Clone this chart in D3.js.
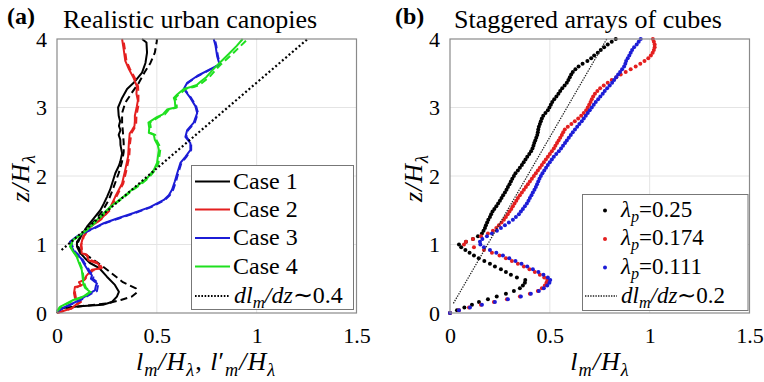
<!DOCTYPE html>
<html>
<head>
<meta charset="utf-8">
<script src="https://cdn.jsdelivr.net/npm/d3@7"></script>
<style>
  body { margin: 0; background: #fff; }
  svg { display: block; }
</style>
</head>
<body>
<svg id="chart" width="764" height="382"></svg>
<script>
// ---------- axis ticks ----------
const xTickValues = [0, 0.5, 1, 1.5];
const zTickValues = [0, 1, 2, 3, 4];
const xGridValues = [0.5, 1];
const zGridValues = [1, 2, 3];

// ---------- panel (a): realistic urban canopies, [l, z/H] pairs ----------
const case1Solid = [[0,0],[0.015,0.07],[0.115,0.10],[0.23,0.12],[0.275,0.16],[0.30,0.24],[0.31,0.31],[0.29,0.41],[0.25,0.53],[0.21,0.66],[0.165,0.73],[0.14,0.8],[0.115,0.88],[0.1,0.97],[0.1,1.04],[0.12,1.12],[0.15,1.26],[0.184,1.38],[0.217,1.5],[0.235,1.6],[0.251,1.7],[0.266,1.8],[0.276,1.89],[0.292,2.04],[0.31,2.15],[0.317,2.21],[0.326,2.33],[0.318,2.45],[0.317,2.53],[0.309,2.6],[0.318,2.67],[0.31,2.73],[0.316,2.8],[0.309,2.88],[0.306,3.0],[0.326,3.14],[0.351,3.27],[0.384,3.36],[0.426,3.51],[0.443,3.65],[0.451,3.8],[0.448,3.95],[0.426,4.0]];
const case1Dashed = [[0,0],[0.02,0.06],[0.12,0.1],[0.25,0.14],[0.32,0.19],[0.375,0.24],[0.40,0.3],[0.395,0.36],[0.33,0.45],[0.265,0.6],[0.22,0.7],[0.17,0.8],[0.12,0.9],[0.1,1.0],[0.12,1.12],[0.159,1.26],[0.192,1.36],[0.226,1.48],[0.259,1.65],[0.284,1.84],[0.309,2.04],[0.325,2.2],[0.334,2.35],[0.334,2.48],[0.331,2.61],[0.326,2.78],[0.326,2.92],[0.342,3.07],[0.376,3.22],[0.41,3.36],[0.438,3.51],[0.468,3.65],[0.49,3.8],[0.50,3.97],[0.5,4.0]];
const case2Solid = [[0,0],[0.074,0.07],[0.115,0.17],[0.09,0.22],[0.085,0.29],[0.09,0.38],[0.12,0.4],[0.11,0.45],[0.135,0.48],[0.149,0.55],[0.174,0.63],[0.215,0.65],[0.207,0.72],[0.157,0.77],[0.149,0.85],[0.124,0.87],[0.12,0.99],[0.13,1.11],[0.167,1.26],[0.217,1.36],[0.26,1.5],[0.292,1.7],[0.326,1.89],[0.342,2.09],[0.356,2.28],[0.36,2.48],[0.364,2.62],[0.376,2.67],[0.388,2.73],[0.39,2.8],[0.39,2.88],[0.395,2.95],[0.40,3.02],[0.405,3.1],[0.398,3.2],[0.40,3.31],[0.384,3.43],[0.36,3.56],[0.342,3.68],[0.334,3.85],[0.326,4.0]];
const case2Dashed = [[0,0],[0.07,0.06],[0.12,0.16],[0.095,0.22],[0.09,0.3],[0.095,0.37],[0.125,0.41],[0.115,0.45],[0.14,0.49],[0.155,0.56],[0.18,0.62],[0.225,0.66],[0.21,0.73],[0.16,0.78],[0.152,0.84],[0.127,0.88],[0.122,1.0],[0.135,1.12],[0.172,1.27],[0.222,1.37],[0.265,1.5],[0.298,1.7],[0.332,1.89],[0.348,2.09],[0.362,2.28],[0.366,2.48],[0.372,2.62],[0.384,2.68],[0.396,2.74],[0.398,2.88],[0.407,3.02],[0.408,3.17],[0.406,3.31],[0.39,3.43],[0.366,3.56],[0.348,3.68],[0.34,3.85],[0.332,4.0]];
const case3Solid = [[0,0.03],[0.04,0.09],[0.115,0.19],[0.165,0.29],[0.19,0.33],[0.195,0.4],[0.2,0.43],[0.17,0.5],[0.175,0.55],[0.16,0.6],[0.15,0.65],[0.135,0.72],[0.12,0.8],[0.085,0.9],[0.074,0.97],[0.065,1.04],[0.1,1.12],[0.14,1.18],[0.184,1.24],[0.234,1.31],[0.301,1.38],[0.384,1.46],[0.468,1.55],[0.535,1.65],[0.56,1.72],[0.576,1.8],[0.59,1.92],[0.602,2.04],[0.618,2.19],[0.643,2.28],[0.668,2.38],[0.668,2.48],[0.643,2.57],[0.652,2.67],[0.685,2.78],[0.702,2.92],[0.693,3.02],[0.668,3.14],[0.635,3.27],[0.652,3.36],[0.702,3.46],[0.768,3.56],[0.814,3.63],[0.802,3.75],[0.794,3.9],[0.785,4.0]];
const case3Dashed = [[0,0.02],[0.045,0.09],[0.12,0.19],[0.17,0.28],[0.2,0.32],[0.205,0.4],[0.205,0.44],[0.18,0.5],[0.185,0.55],[0.165,0.6],[0.155,0.66],[0.14,0.72],[0.125,0.8],[0.09,0.9],[0.078,0.97],[0.07,1.04],[0.105,1.12],[0.145,1.18],[0.19,1.24],[0.24,1.31],[0.31,1.38],[0.392,1.46],[0.475,1.55],[0.54,1.65],[0.565,1.72],[0.582,1.8],[0.596,1.92],[0.607,2.04],[0.623,2.19],[0.648,2.28],[0.672,2.38],[0.672,2.48],[0.648,2.57],[0.657,2.67],[0.69,2.78],[0.706,2.92],[0.697,3.02],[0.672,3.14],[0.638,3.27],[0.655,3.36],[0.706,3.46],[0.772,3.56],[0.817,3.63],[0.806,3.75],[0.798,3.9],[0.79,4.0]];
const case4Solid = [[0,0.03],[0.015,0.09],[0.082,0.19],[0.132,0.24],[0.165,0.31],[0.14,0.37],[0.132,0.43],[0.128,0.53],[0.124,0.63],[0.11,0.73],[0.099,0.82],[0.08,0.9],[0.065,0.97],[0.082,1.07],[0.12,1.15],[0.167,1.26],[0.217,1.41],[0.267,1.55],[0.334,1.70],[0.375,1.8],[0.418,1.89],[0.455,1.98],[0.485,2.09],[0.501,2.19],[0.51,2.38],[0.505,2.45],[0.49,2.53],[0.485,2.6],[0.46,2.63],[0.462,2.7],[0.458,2.78],[0.50,2.86],[0.53,2.9],[0.551,2.97],[0.593,3.0],[0.59,3.1],[0.585,3.14],[0.602,3.19],[0.635,3.27],[0.67,3.3],[0.70,3.33],[0.72,3.38],[0.75,3.45],[0.78,3.55],[0.81,3.64],[0.86,3.78],[0.90,3.9],[0.93,4.0]];
const case4Dashed = [[0,0.02],[0.02,0.09],[0.088,0.19],[0.138,0.24],[0.17,0.31],[0.145,0.37],[0.137,0.43],[0.132,0.53],[0.128,0.63],[0.114,0.73],[0.102,0.82],[0.083,0.9],[0.068,0.97],[0.085,1.07],[0.123,1.15],[0.17,1.26],[0.222,1.41],[0.272,1.55],[0.34,1.70],[0.382,1.8],[0.425,1.89],[0.462,1.98],[0.492,2.09],[0.508,2.19],[0.517,2.38],[0.512,2.45],[0.497,2.53],[0.492,2.6],[0.468,2.63],[0.47,2.7],[0.466,2.78],[0.508,2.86],[0.54,2.9],[0.56,2.97],[0.6,3.0],[0.598,3.1],[0.593,3.14],[0.61,3.19],[0.645,3.27],[0.685,3.3],[0.715,3.33],[0.735,3.38],[0.765,3.45],[0.795,3.55],[0.825,3.64],[0.878,3.78],[0.92,3.9],[0.955,4.0]];
const slopeA = [[0.023,0.92],[1.255,4.0]];   // dl_m/dz ~ 0.4

// ---------- panel (b): staggered arrays of cubes ----------
const heightsB = [
  0,0.04,0.08,0.12,0.16,0.2,0.24,0.28,0.32,0.36,
  0.4,0.44,0.48,0.52,0.56,0.6,0.64,0.68,0.72,0.76,
  0.8,0.84,0.88,0.92,0.96,1,1.04,1.08,1.12,1.16,
  1.2,1.24,1.28,1.32,1.36,1.4,1.44,1.48,1.52,1.56,
  1.6,1.64,1.68,1.72,1.76,1.8,1.84,1.88,1.92,1.96,
  2,2.04,2.08,2.12,2.16,2.2,2.24,2.28,2.32,2.36,
  2.4,2.44,2.48,2.52,2.56,2.6,2.64,2.68,2.72,2.76,
  2.8,2.84,2.88,2.92,2.96,3,3.04,3.08,3.12,3.16,
  3.2,3.24,3.28,3.32,3.36,3.4,3.44,3.48,3.52,3.56,
  3.6,3.64,3.68,3.72,3.76,3.8,3.84,3.88,3.92,3.96,
  4
];
const lp025 = [
  0,0.035,0.072,0.11,0.145,0.19,0.234,0.28,0.32,0.35,
  0.365,0.375,0.377,0.335,0.305,0.28,0.255,0.225,0.2,0.172,
  0.144,0.12,0.098,0.077,0.056,0.045,0.08,0.115,0.14,0.16,
  0.168,0.175,0.18,0.186,0.192,0.2,0.206,0.213,0.222,0.232,
  0.241,0.25,0.258,0.266,0.275,0.283,0.29,0.298,0.305,0.312,
  0.32,0.328,0.34,0.35,0.36,0.369,0.378,0.387,0.397,0.406,
  0.413,0.418,0.422,0.427,0.432,0.437,0.44,0.442,0.445,0.45,
  0.455,0.46,0.467,0.478,0.49,0.498,0.505,0.512,0.522,0.533,
  0.543,0.552,0.562,0.574,0.585,0.593,0.6,0.607,0.615,0.628,
  0.644,0.664,0.688,0.707,0.722,0.74,0.755,0.772,0.79,0.81,
  0.83
];
const lp0174 = [
  0,0.045,0.095,0.155,0.22,0.285,0.35,0.4,0.44,0.46,
  0.475,0.483,0.487,0.472,0.45,0.425,0.398,0.37,0.34,0.31,
  0.28,0.248,0.21,0.17,0.12,0.07,0.08,0.115,0.155,0.19,
  0.215,0.232,0.245,0.258,0.27,0.28,0.289,0.298,0.307,0.315,
  0.323,0.332,0.34,0.35,0.36,0.37,0.38,0.39,0.4,0.41,
  0.42,0.43,0.44,0.45,0.46,0.47,0.48,0.49,0.5,0.51,
  0.52,0.528,0.536,0.544,0.552,0.56,0.567,0.575,0.59,0.608,
  0.625,0.642,0.657,0.67,0.682,0.69,0.697,0.704,0.71,0.717,
  0.726,0.738,0.752,0.77,0.79,0.81,0.833,0.855,0.88,0.905,
  0.93,0.953,0.974,0.993,1.006,1.015,1.021,1.025,1.025,1.021,
  1.016
];
const lp0111 = [
  0,0.045,0.1,0.16,0.225,0.29,0.355,0.405,0.445,0.47,
  0.487,0.498,0.502,0.49,0.468,0.443,0.415,0.387,0.358,0.328,
  0.297,0.265,0.232,0.2,0.17,0.152,0.15,0.162,0.185,0.21,
  0.235,0.255,0.275,0.295,0.315,0.33,0.345,0.355,0.365,0.375,
  0.385,0.393,0.4,0.408,0.415,0.423,0.43,0.436,0.442,0.448,
  0.455,0.463,0.472,0.481,0.49,0.5,0.51,0.52,0.532,0.545,
  0.556,0.566,0.576,0.585,0.595,0.605,0.615,0.626,0.637,0.648,
  0.66,0.67,0.68,0.69,0.7,0.71,0.72,0.73,0.742,0.753,
  0.765,0.775,0.787,0.8,0.812,0.822,0.832,0.842,0.852,0.862,
  0.872,0.878,0.882,0.89,0.898,0.905,0.912,0.922,0.935,0.945,
  0.955
];
const slopeB = [[0.017,0.14],[0.785,4.0]];   // dl_m/dz ~ 0.2

const caseNames = ["Case 1", "Case 2", "Case 3", "Case 4"];
const lambdaNames = ["0.25", "0.174", "0.111"];

// ---------- drawing ----------
const SERIF = '"Liberation Serif"';
const COLORS = { black: "#000000", red: "#e41f1f", blue: "#1c1cd6", green: "#1fe01f" };
const svg = d3.select("#chart");

// text helper that always carries the serif face
function txt(parent) {
  return parent.append("text").style("font-family", SERIF).attr("fill", "#000");
}

// rich math-like text: parts of {t, i (italic), sub}
function richText(sel, parts, size) {
  let shift = 0;
  parts.forEach(p => {
    const target = p.sub ? size * 0.22 : 0;
    const ts = sel.append("tspan").text(p.t).attr("dy", target - shift);
    shift = target;
    if (p.sub) ts.attr("font-size", size * 0.7);
    if (p.i) ts.attr("font-style", "italic");
  });
}

function makePanel(left, right) {
  const x = d3.scaleLinear().domain([0, 1.5]).range([left, right]);
  const y = d3.scaleLinear().domain([0, 4]).range([313, 39]);
  const g = svg.append("g");

  // grid
  g.selectAll(".gx").data(xGridValues).join("line")
    .attr("x1", d => x(d)).attr("x2", d => x(d))
    .attr("y1", y(0)).attr("y2", y(4))
    .attr("stroke", "#e4e4e4").attr("stroke-width", 1);
  g.selectAll(".gy").data(zGridValues).join("line")
    .attr("x1", x(0)).attr("x2", x(1.5))
    .attr("y1", d => y(d)).attr("y2", d => y(d))
    .attr("stroke", "#e4e4e4").attr("stroke-width", 1);

  // tick labels from the library's axes
  const ax = g.append("g").attr("transform", `translate(0,${y(0)})`)
    .call(d3.axisBottom(x).tickValues(xTickValues).tickFormat(d => String(d)).tickSize(0).tickPadding(14));
  const ay = g.append("g").attr("transform", `translate(${x(0)},0)`)
    .call(d3.axisLeft(y).tickValues(zTickValues).tickFormat(d => String(d)).tickSize(0).tickPadding(10));
  [ax, ay].forEach(a => {
    a.attr("font-family", null).attr("font-size", null);
    a.select(".domain").remove();
    a.selectAll("text").attr("font-size", 22).attr("fill", "#000")
      .style("font-family", SERIF);
  });

  return { g, x, y };
}

function drawFrame(p) {
  p.g.append("rect")
    .attr("x", p.x(0)).attr("y", p.y(4))
    .attr("width", p.x(1.5) - p.x(0)).attr("height", p.y(0) - p.y(4))
    .attr("fill", "none").attr("stroke", "#8a8a8a").attr("stroke-width", 1.2);
}

// ----- panel (a)
const pa = makePanel(57, 356.5);
const lineA = d3.line().x(d => pa.x(d[0])).y(d => pa.y(d[1]));
const curvesA = [
  { d: case1Solid, c: COLORS.black, dash: null },
  { d: case1Dashed, c: COLORS.black, dash: "7 4" },
  { d: case2Solid, c: COLORS.red, dash: null },
  { d: case2Dashed, c: COLORS.red, dash: "7 4" },
  { d: case3Solid, c: COLORS.blue, dash: null },
  { d: case3Dashed, c: COLORS.blue, dash: "7 4" },
  { d: case4Solid, c: COLORS.green, dash: null },
  { d: case4Dashed, c: COLORS.green, dash: "7 4" }
];
pa.g.selectAll(".curve").data(curvesA).join("path")
  .attr("d", d => lineA(d.d)).attr("fill", "none")
  .attr("stroke", d => d.c).attr("stroke-width", 2)
  .attr("stroke-dasharray", d => d.dash)
  .attr("stroke-linejoin", "round");
pa.g.append("path").attr("d", lineA(slopeA)).attr("fill", "none")
  .attr("stroke", "#000").attr("stroke-width", 2.2).attr("stroke-dasharray", "2 2.4");
drawFrame(pa);

// legend (a)
const legA = svg.append("g");
legA.append("rect").attr("x", 191.5).attr("y", 165.5).attr("width", 162).attr("height", 144)
  .attr("fill", "#fff").attr("stroke", "#777").attr("stroke-width", 1);
const legAColors = [COLORS.black, COLORS.red, COLORS.blue, COLORS.green];
const legARows = [181.5, 209.5, 238, 266.5];
caseNames.forEach((name, i) => {
  legA.append("line").attr("x1", 195).attr("x2", 230).attr("y1", legARows[i]).attr("y2", legARows[i])
    .attr("stroke", legAColors[i]).attr("stroke-width", 2);
  txt(legA).attr("x", 233).attr("y", legARows[i] + 7).attr("font-size", 24).text(name);
});
legA.append("line").attr("x1", 195).attr("x2", 230).attr("y1", 296).attr("y2", 296)
  .attr("stroke", "#000").attr("stroke-width", 2).attr("stroke-dasharray", "1.6 1.6");
richText(txt(legA).attr("x", 234).attr("y", 303).attr("font-size", 24), [
  { t: "dl", i: true }, { t: "m", i: true, sub: true }, { t: "/dz", i: true }, { t: "∼0.4" }
], 24);

// ----- panel (b)
const pb = makePanel(450, 749.5);
const seriesB = [
  { v: lp025, c: COLORS.black },
  { v: lp0174, c: COLORS.red },
  { v: lp0111, c: COLORS.blue }
];
seriesB.forEach(s => {
  pb.g.append("g").selectAll("circle")
    .data(heightsB.map((z, i) => [s.v[i], z]))
    .join("circle")
    .attr("cx", d => pb.x(d[0])).attr("cy", d => pb.y(d[1]))
    .attr("r", 2).attr("fill", s.c);
});
const lineB = d3.line().x(d => pb.x(d[0])).y(d => pb.y(d[1]));
pb.g.append("path").attr("d", lineB(slopeB)).attr("fill", "none")
  .attr("stroke", "#222").attr("stroke-width", 1.3).attr("stroke-dasharray", "1.4 1.2");
drawFrame(pb);

// legend (b)
const legB = svg.append("g");
legB.append("rect").attr("x", 582.5).attr("y", 194.5).attr("width", 165.5).attr("height", 116)
  .attr("fill", "#fff").attr("stroke", "#777").attr("stroke-width", 1);
const legBRows = [210.5, 239, 267.5];
lambdaNames.forEach((val, i) => {
  legB.append("circle").attr("cx", 605).attr("cy", legBRows[i]).attr("r", 2).attr("fill", seriesB[i].c);
  richText(txt(legB).attr("x", 621).attr("y", legBRows[i] + 6).attr("font-size", 23), [
    { t: "λ", i: true }, { t: "p", i: true, sub: true }, { t: "=" + val }
  ], 23);
});
legB.append("line").attr("x1", 585).attr("x2", 617).attr("y1", 296).attr("y2", 296)
  .attr("stroke", "#222").attr("stroke-width", 1.3).attr("stroke-dasharray", "1.4 1.2");
richText(txt(legB).attr("x", 621).attr("y", 303).attr("font-size", 23), [
  { t: "dl", i: true }, { t: "m", i: true, sub: true }, { t: "/dz", i: true }, { t: "∼0.2" }
], 23);

// ---------- titles and axis labels ----------
txt(svg).attr("x", 7).attr("y", 24).attr("font-size", 24).attr("font-weight", "bold").text("(a)");
txt(svg).attr("x", 63).attr("y", 28).attr("font-size", 26).text("Realistic urban canopies");
txt(svg).attr("x", 395).attr("y", 24).attr("font-size", 24).attr("font-weight", "bold").text("(b)");
txt(svg).attr("x", 454).attr("y", 28).attr("font-size", 26).text("Staggered arrays of cubes");

function zLabel(xPos) {
  const t = txt(svg).attr("transform", `translate(${xPos},178) rotate(-90)`)
    .attr("text-anchor", "middle").attr("font-size", 26).attr("letter-spacing", 1);
  richText(t, [{ t: "z/H", i: true }, { t: "λ", i: true, sub: true }], 26);
}
zLabel(29);
zLabel(422);

const xla = txt(svg).attr("x", 206).attr("y", 370).attr("text-anchor", "middle")
  .attr("font-size", 26).attr("letter-spacing", 1);
richText(xla, [
  { t: "l", i: true }, { t: "m", i: true, sub: true }, { t: "/H", i: true }, { t: "λ", i: true, sub: true },
  { t: ", " }, { t: "l", i: true }, { t: "′" }, { t: "m", i: true, sub: true }, { t: "/H", i: true },
  { t: "λ", i: true, sub: true }
], 26);
const xlb = txt(svg).attr("x", 600).attr("y", 370).attr("text-anchor", "middle")
  .attr("font-size", 26).attr("letter-spacing", 1);
richText(xlb, [
  { t: "l", i: true }, { t: "m", i: true, sub: true }, { t: "/H", i: true }, { t: "λ", i: true, sub: true }
], 26);
</script>
</body>
</html>
